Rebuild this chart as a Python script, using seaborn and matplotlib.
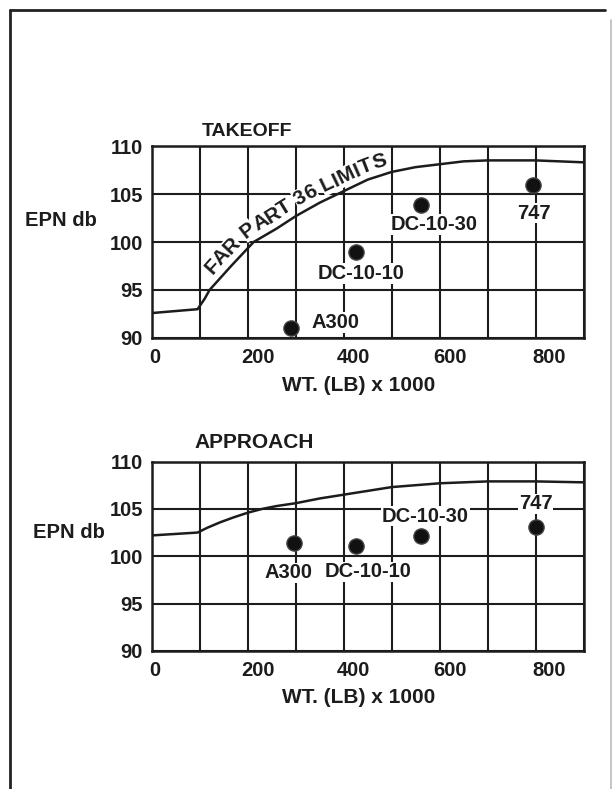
import numpy as np
import matplotlib
matplotlib.use("Agg")
import matplotlib.pyplot as plt
import matplotlib.transforms as mtransforms
from matplotlib.font_manager import FontProperties
from matplotlib.lines import Line2D
import seaborn as sns

# aircraft points: weight (1000 lb) vs EPN db
aircraft = ["A300", "DC-10-10", "DC-10-30", "747"]
takeoff_wt = [290, 425, 562, 795]
takeoff_epn = [91.0, 99.0, 103.9, 105.9]
approach_wt = [297, 426, 562, 800]
approach_epn = [101.4, 101.1, 102.1, 103.1]

# FAR part 36 limit curves
takeoff_limit_wt = [0, 95, 110, 120, 165, 212, 260, 300, 350, 400, 450, 500, 550, 600,
                    650, 700, 800, 900]
takeoff_limit_epn = [92.6, 93.0, 94.1, 95.0, 97.5, 100.0, 101.4, 102.7, 104.1, 105.3,
                     106.5, 107.3, 107.8, 108.1, 108.4, 108.5, 108.5, 108.3]
approach_limit_wt = [0, 95, 115, 143, 170, 200, 230, 260, 300, 350, 400, 450, 500, 600,
                     700, 800, 900]
approach_limit_epn = [102.2, 102.5, 103.0, 103.6, 104.1, 104.6, 105.0, 105.3, 105.6,
                      106.1, 106.5, 106.9, 107.3, 107.7, 107.9, 107.9, 107.8]

x_ticks = [0, 100, 200, 300, 400, 500, 600, 700, 800, 900]
x_tick_labels = ["0", "", "200", "", "400", "", "600", "", "800", ""]
y_ticks = [90, 95, 100, 105, 110]

# where the name labels sit relative to their dot (pixels) + alignment
takeoff_label_pos = [(20, 6, "left"), (5, -22, "center"), (13, -20, "center"), (1, -28, "center")]
approach_label_pos = [(-6, -30, "center"), (12, -26, "center"), (4, 20, "center"), (0, 23, "center")]

INK = "#1c1c1c"
FS = 14.5

sns.set_style("white")
plt.rcParams["font.family"] = ["Liberation Sans", "DejaVu Sans"]
plt.rcParams["font.weight"] = "bold"
plt.rcParams["font.size"] = FS

W, H = 613, 789
fig = plt.figure(figsize=(W / 100, H / 100), dpi=100)
ax_top = fig.add_axes([152 / W, 1 - 338 / H, 431.5 / W, 192 / H])
ax_bot = fig.add_axes([152 / W, 1 - 651 / H, 431.5 / W, 189.5 / H])


def setup_panel(ax, lim_x, lim_y, wt, epn, label_pos):
    sns.lineplot(x=lim_x, y=lim_y, ax=ax, color=INK, lw=1.8, zorder=4)
    sns.scatterplot(x=wt, y=epn, ax=ax, s=120, color="#111111",
                    edgecolor="#444444", linewidth=1, zorder=5)
    for name, x, y, (dx, dy, ha) in zip(aircraft, wt, epn, label_pos):
        ax.annotate(name, (x, y), xytext=(dx, dy), textcoords="offset pixels",
                    ha=ha, va="center", fontsize=FS, fontweight="bold", color=INK,
                    bbox=dict(fc="white", ec="none", pad=0.5), zorder=3)

    ax.set_xlim(0, 900)
    ax.set_ylim(90, 110)
    ax.set_xticks(x_ticks)
    ax.set_xticklabels(x_tick_labels)
    ax.set_yticks(y_ticks)
    ax.set_yticklabels([str(v) for v in y_ticks])
    ax.tick_params(axis="both", length=0, labelsize=FS, colors=INK)
    ax.tick_params(axis="x", pad=7)
    ax.tick_params(axis="y", pad=6.5)
    ax.grid(True, color=INK, lw=1.5)
    ax.set_axisbelow(True)
    for sp in ax.spines.values():
        sp.set_visible(True)
        sp.set_color(INK)
        sp.set_linewidth(1.8)

    # printed labels sit a bit right of their grid lines
    for lbl, dx in zip(ax.get_xticklabels(), [3, 0, 10, 0, 10, 0, 10, 0, 14, 0]):
        lbl.set_transform(lbl.get_transform() +
                          mtransforms.ScaledTranslation(dx / 100, 0, fig.dpi_scale_trans))

    ax.set_xlabel("WT. (LB) x 1000", fontsize=FS + 0.5, fontweight="bold", color=INK)
    ax.xaxis.label.set_va("center")
    ax.set_ylabel("")


setup_panel(ax_top, takeoff_limit_wt, takeoff_limit_epn, takeoff_wt, takeoff_epn, takeoff_label_pos)
setup_panel(ax_bot, approach_limit_wt, approach_limit_epn, approach_wt, approach_epn, approach_label_pos)
ax_top.xaxis.set_label_coords(0.478, -0.248)
ax_bot.xaxis.set_label_coords(0.478, -0.248)

fig.text(202 / W, 1 - 132 / H, "TAKEOFF", ha="left", va="center", fontsize=FS - 0.5, color=INK)
fig.text(194 / W, 1 - 443 / H, "APPROACH", ha="left", va="center", fontsize=FS + 0.5, color=INK)
fig.text(25 / W, 1 - 220 / H, "EPN db", ha="left", va="center", fontsize=FS, color=INK)
fig.text(33 / W, 1 - 532 / H, "EPN db", ha="left", va="center", fontsize=FS, color=INK)


def text_along_curve(ax, text, xs, ys, start_x, offset_px, size):
    renderer = fig.canvas.get_renderer()
    prop = FontProperties(family="Liberation Sans", weight="bold", size=size)
    pts = ax.transData.transform(np.column_stack([xs, ys]))
    seg = np.hypot(np.diff(pts[:, 0]), np.diff(pts[:, 1]))
    cum = np.concatenate([[0], np.cumsum(seg)])
    s0 = np.interp(start_x, xs, cum)

    def width(s):
        return renderer.get_text_width_height_descent(s, prop, ismath=False)[0]

    pos = 0.0
    for i, ch in enumerate(text):
        adv = width(text[:i + 1] + "I") - width(text[:i] + "I")
        s = s0 + pos + adv / 2
        pos += adv
        if ch == " ":
            continue
        px = np.interp(s, cum, pts[:, 0])
        py = np.interp(s, cum, pts[:, 1])
        x1, y1 = np.interp(s - 14, cum, pts[:, 0]), np.interp(s - 14, cum, pts[:, 1])
        x2, y2 = np.interp(s + 14, cum, pts[:, 0]), np.interp(s + 14, cum, pts[:, 1])
        ang = np.arctan2(y2 - y1, x2 - x1)
        tx = px - np.sin(ang) * offset_px
        ty = py + np.cos(ang) * offset_px
        kw = dict(transform=mtransforms.IdentityTransform(), rotation=np.degrees(ang),
                  rotation_mode="anchor", ha="center", va="baseline",
                  fontproperties=prop)
        # white patch first so grid lines break behind the lettering
        ax.text(tx, ty, ch, color="none", bbox=dict(fc="white", ec="none", pad=0.3),
                zorder=2, **kw)
        ax.text(tx, ty, ch, color=INK, zorder=3, **kw)


fig.canvas.draw()
text_along_curve(ax_top, "FAR PART 36 LIMITS", takeoff_limit_wt, takeoff_limit_epn, 138, 7.5, 15)

# page frame
fig.add_artist(Line2D([10 / W, 10 / W], [1 - 10 / H, 0], transform=fig.transFigure,
                      color="#222222", lw=2))
fig.add_artist(Line2D([10 / W, 605 / W], [1 - 10 / H, 1 - 10 / H], transform=fig.transFigure,
                      color="#222222", lw=2))
fig.add_artist(Line2D([611 / W, 611 / W], [1 - 20 / H, 0], transform=fig.transFigure,
                      color="#bbbbbb", lw=1.2))

fig.savefig("out.png", dpi=100)
